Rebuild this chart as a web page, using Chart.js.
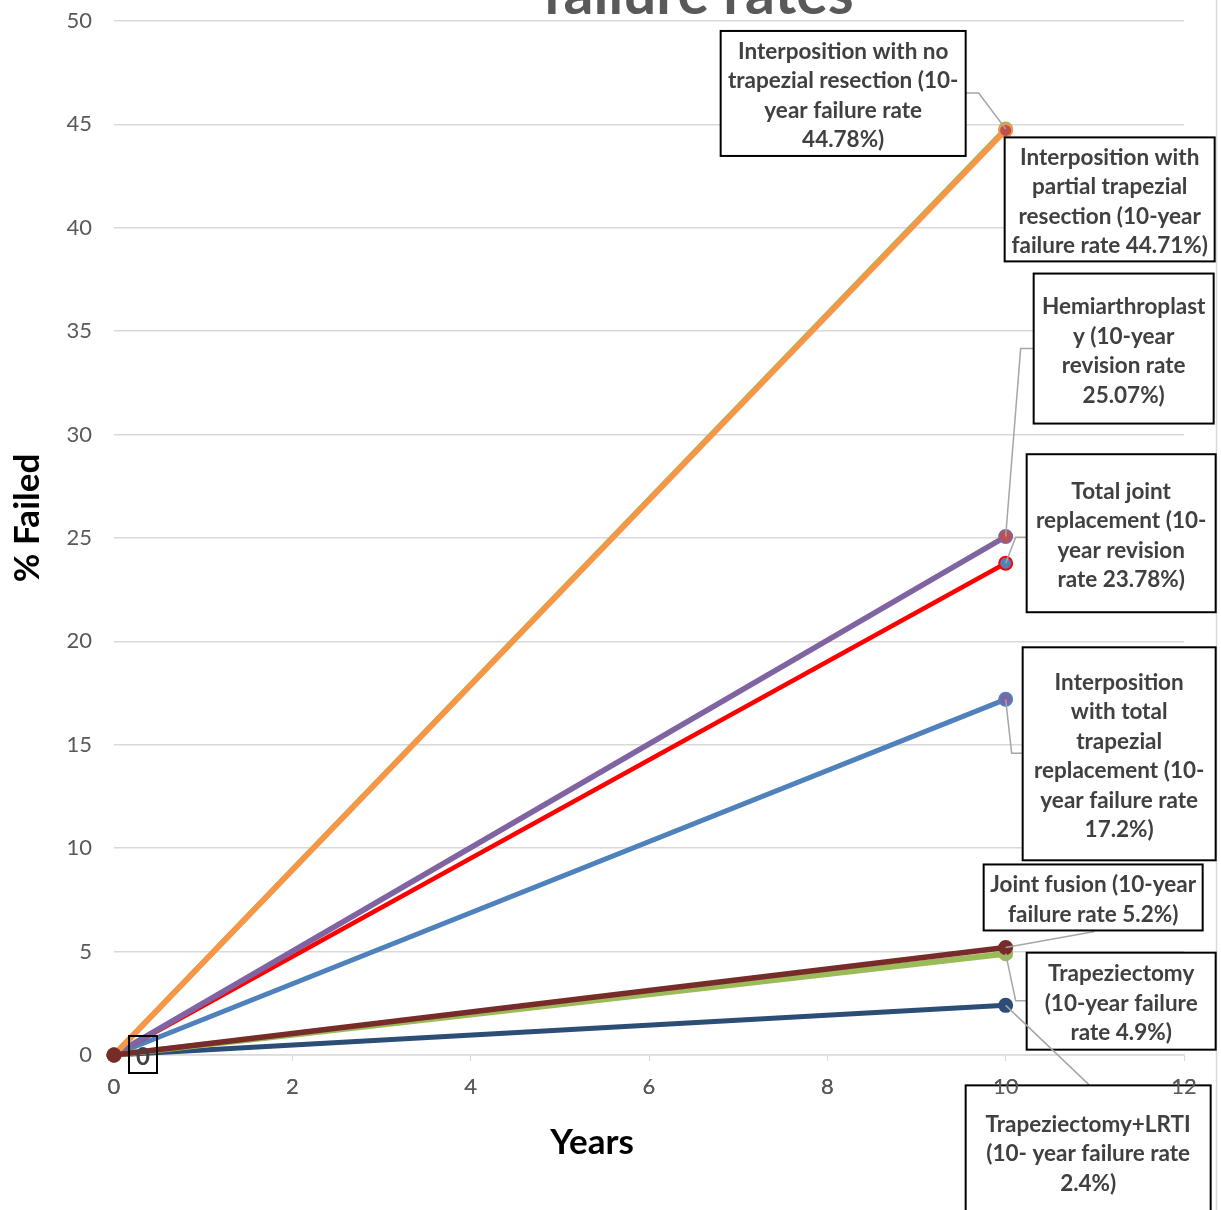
<!DOCTYPE html>
<html>
<head>
<meta charset="utf-8">
<script src="https://cdn.jsdelivr.net/npm/chart.js@4.4.0/dist/chart.umd.min.js"></script>
<style>
  html, body { margin: 0; padding: 0; background: #fff; }
  #wrap { width: 1221px; height: 1210px; position: relative; }
</style>
</head>
<body>
<div id="wrap"><canvas id="myChart" width="1221" height="1210"></canvas></div>
<script>
// years on the x axis (start and 10-year follow-up)
const years = [0, 10];

// % failed per procedure
const noResection = [0, 44.78];
const partialResection = [0, 44.71];
const hemiarthroplasty = [0, 25.07];
const totalJoint = [0, 23.78];
const interpTotal = [0, 17.2];
const jointFusion = [0, 5.2];
const trapeziectomy = [0, 4.9];
const trapLrti = [0, 2.4];

const xTicks = [0, 2, 4, 6, 8, 10, 12];
const yTicks = [0, 5, 10, 15, 20, 25, 30, 35, 40, 45, 50];

const labelNoResection = ['Interposition with no', 'trapezial resection (10-', 'year failure rate', '44.78%)'];
const labelPartial = ['Interposition with', 'partial trapezial', 'resection (10-year', 'failure rate 44.71%)'];
const labelHemi = ['Hemiarthroplast', 'y (10-year', 'revision rate', '25.07%)'];
const labelTotalJoint = ['Total joint', 'replacement (10-', 'year revision', 'rate 23.78%)'];
const labelInterpTotal = ['Interposition', 'with total', 'trapezial', 'replacement (10-', 'year failure rate', '17.2%)'];
const labelFusion = ['Joint fusion (10-year', 'failure rate 5.2%)'];
const labelTrap = ['Trapeziectomy', '(10-year failure', 'rate 4.9%)'];
const labelLrti = ['Trapeziectomy+LRTI', '(10- year failure rate', '2.4%)'];

function pts(arr) {
  return arr.map((v, i) => ({ x: years[i], y: v }));
}

function series(name, data, color, width, markerFill, label, box) {
  return {
    label: name,
    data: pts(data),
    borderColor: color,
    borderWidth: width,
    clip: false,
    pointRadius: 6.5,
    pointBorderWidth: 2,
    pointBorderColor: color,
    pointBackgroundColor: [color, markerFill],
    boxLabel: label,
    box: box
  };
}

// box: offset of the label box from the 10-year point, size, and leader line path
const datasets = [
  series('Joint fusion', jointFusion, '#772C2A', 5.5, '#772C2A', labelFusion,
    { dx: -22, dy: -83, w: 219, h: 66, leader: [[89, -16]] }),
  series('Trapeziectomy', trapeziectomy, '#9BBB59', 6, '#9BBB59', labelTrap,
    { dx: 21, dy: -1, w: 189, h: 97, leader: [[21, 47], [10, 47]] }),
  series('Trapeziectomy+LRTI', trapLrti, '#2C4D75', 5, '#2C4D75', labelLrti,
    { dx: -40, dy: 80, w: 245, h: 132, leader: [[84, 80]] }),
  series('Interposition partial', partialResection, '#F79646', 5.5, '#C0504D', labelPartial,
    { dx: -1, dy: 7, w: 210, h: 124, leader: [] }),
  series('Interposition no resection', noResection, '#9BBB59', 5.5, '#C0504D', labelNoResection,
    { dx: -285, dy: -98, w: 245, h: 125, leader: [[-40, -36], [-27, -36]] }),
  series('Hemiarthroplasty', hemiarthroplasty, '#8064A2', 5.5, '#C0504D', labelHemi,
    { dx: 28, dy: -263, w: 180, h: 150, leader: [[28, -188], [15, -188]] }),
  series('Total joint replacement', totalJoint, '#FF0000', 4.5, '#4F81BD', labelTotalJoint,
    { dx: 21, dy: -109, w: 189, h: 158, leader: [[21, -26], [10, -26]] }),
  series('Interposition total', interpTotal, '#4F81BD', 5, '#8064A2', labelInterpTotal,
    { dx: 17, dy: -52, w: 193, h: 213, leader: [[17, 54], [6, 54]] })
];

const labelPlugin = {
  id: 'labelPlugin',
  beforeDraw(chart) {
    const c = chart.ctx;
    c.save();
    c.strokeStyle = '#d9d9d9';
    c.lineWidth = 1.5;
    c.beginPath();
    c.moveTo(1216.5, 0);
    c.lineTo(1216.5, chart.height);
    c.stroke();
    c.restore();
  },
  afterDatasetsDraw(chart) {
    const c = chart.ctx;
    c.save();
    chart.data.datasets.forEach((ds, i) => {
      const p = chart.getDatasetMeta(i).data[1];
      const b = ds.box;
      const left = p.x + b.dx, top = p.y + b.dy;
      // leader line
      if (b.leader.length) {
        c.strokeStyle = '#a6a6a6';
        c.lineWidth = 1.5;
        c.beginPath();
        c.moveTo(p.x + b.leader[0][0], p.y + b.leader[0][1]);
        for (let k = 1; k < b.leader.length; k++) c.lineTo(p.x + b.leader[k][0], p.y + b.leader[k][1]);
        c.lineTo(p.x, p.y);
        c.stroke();
      }
      c.fillStyle = '#fff';
      c.fillRect(left, top, b.w, b.h);
      c.strokeStyle = '#000';
      c.lineWidth = 2;
      c.strokeRect(left, top, b.w, b.h);
      c.fillStyle = '#404040';
      c.font = 'bold 22.5px Lato';
      c.textAlign = 'center';
      c.textBaseline = 'middle';
      const lh = 29.5;
      const start = top + b.h / 2 + 2.5 - (ds.boxLabel.length - 1) * lh / 2;
      ds.boxLabel.forEach((t, k) => c.fillText(t, left + b.w / 2, start + k * lh));
    });
    // "0" label at the origin
    const o = chart.getDatasetMeta(0).data[0];
    c.strokeStyle = '#000';
    c.lineWidth = 2;
    c.strokeRect(o.x + 15, o.y - 19, 28, 37);
    c.fillStyle = '#404040';
    c.font = 'bold 24px Lato';
    c.fillText('0', o.x + 29, o.y + 2);
    c.restore();
  },
  afterDraw(chart) {
    // x tick labels sit on top of the lowest label box, like the original
    chart.scales.x.drawLabels(chart.chartArea);
    const c = chart.ctx;
    c.save();
    // title, cut off at the top like the original
    c.fillStyle = '#595959';
    c.font = 'bold 59px Lato';
    c.textAlign = 'center';
    c.textBaseline = 'alphabetic';
    c.fillText('failure rates', 698, 14);
    // axis titles
    c.fillStyle = '#000';
    c.font = 'bold 35px Lato';
    c.textBaseline = 'middle';
    c.fillText('Years', 592, 1143);
    c.translate(28, 518);
    c.rotate(-Math.PI / 2);
    c.fillText('% Failed', 0, 0);
    c.restore();
  }
};

const ctx = document.getElementById('myChart').getContext('2d');
new Chart(ctx, {
  type: 'line',
  data: { datasets: datasets },
  plugins: [labelPlugin],
  options: {
    responsive: false,
    animation: false,
    layout: { padding: { top: 21, right: 37, left: 0, bottom: 0 } },
    plugins: { legend: { display: false }, title: { display: false }, tooltip: { enabled: false } },
    scales: {
      x: {
        type: 'linear',
        min: xTicks[0],
        max: xTicks[xTicks.length - 1],
        afterBuildTicks: s => { s.ticks = xTicks.map(v => ({ value: v })); },
        afterFit: s => { s.height = 155; s.paddingLeft = 0; s.paddingRight = 0; },
        grid: { drawOnChartArea: false, drawTicks: true, tickLength: 6, color: '#d9d9d9' },
        border: { color: '#d9d9d9', width: 1.5 },
        ticks: { color: '#595959', font: { family: 'Lato', size: 22 }, padding: 13, maxRotation: 0 }
      },
      y: {
        min: yTicks[0],
        max: yTicks[yTicks.length - 1],
        afterBuildTicks: s => { s.ticks = yTicks.map(v => ({ value: v })); },
        afterFit: s => { s.width = 114; s.paddingTop = 0; s.paddingBottom = 0; },
        grid: { color: '#d9d9d9', lineWidth: 1.5, drawTicks: false },
        border: { display: false },
        ticks: { color: '#595959', font: { family: 'Lato', size: 22 }, padding: 22 }
      }
    }
  }
});
</script>
</body>
</html>
